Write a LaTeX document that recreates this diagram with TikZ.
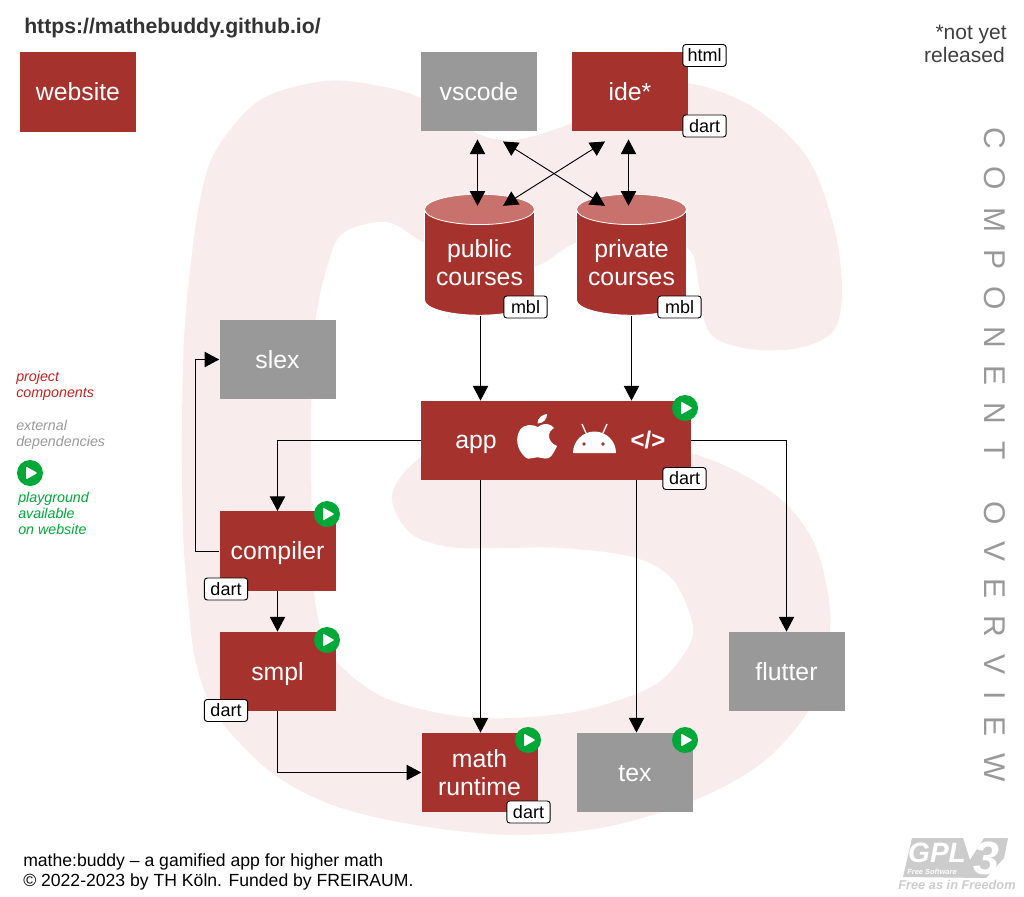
\documentclass[tikz,border=0pt]{standalone}
\usepackage{fontspec}
\setmainfont{Liberation Sans}
\newfontfamily\spreadfont[LetterSpace=57]{Liberation Sans}
\usetikzlibrary{arrows.meta,shapes.geometric}
\definecolor{boxred}{HTML}{A6322E}
\definecolor{cylred}{HTML}{C9716D}
\definecolor{boxgray}{HTML}{999999}
\definecolor{shadepink}{HTML}{F9ECEC}
\definecolor{playgreen}{HTML}{00A838}
\definecolor{legendred}{HTML}{C8201F}
\definecolor{gplgray}{HTML}{CCCCCC}
\begin{document}
\begin{tikzpicture}[x=0.75pt, y=-0.75pt]
        \tikzstyle{redbox}=[rectangle, fill=boxred, text=white, inner sep=0pt, minimum width=87pt, minimum height=59.5pt, align=center, text height=14pt, text depth=1pt, font=\fontsize{18.6}{21}\selectfont]
        \tikzstyle{graybox}=[redbox, fill=boxgray]
        \tikzstyle{courses}=[cylinder, shape border rotate=90, aspect=0.35, draw=white, line width=0.6pt, inner sep=0pt, cylinder uses custom fill, cylinder body fill=boxred, cylinder end fill=cylred, minimum width=82.5pt, minimum height=90.75pt, text=white, align=center, font=\fontsize{18.6}{21}\selectfont]
        \tikzstyle{tag}=[rectangle, rounded corners=2.2pt, draw=black, line width=0.7pt, fill=white, inner sep=0pt, minimum width=32.5pt, minimum height=16.5pt, font=\fontsize{13.5}{14}\selectfont]
        \tikzstyle{play}=[circle, fill=playgreen, inner sep=0pt, minimum size=19.5pt, path picture={\fill[white, rounded corners=0.8pt] ([shift={(-4,-6.5)}]path picture bounding box.center) -- ([shift={(7.5,0)}]path picture bounding box.center) -- ([shift={(-4,6.5)}]path picture bounding box.center) -- cycle;}]
        \tikzstyle{flow}=[draw=black, line width=0.7pt, -{Triangle[length=11pt, width=11.5pt]}]
        \tikzstyle{both}=[flow, {Triangle[length=11pt, width=11.5pt]}-{Triangle[length=11pt, width=11.5pt]}]
        \tikzstyle{legend}=[inner sep=0pt, anchor=west, align=left, font=\fontsize{10.7}{12}\selectfont\itshape]
        \useasboundingbox (0,0) rectangle (1024,896);
        \fill[shadepink] plot[smooth cycle, tension=0.55] coordinates {(325,81) (380,86) (425,100) (474,132) (514,140) (575,122) (630,92) (687,83) (753,107) (807,157) (834,227) (842,290) (834,330) (803,347) (758,350) (718,340) (704,320) (698,280) (688,248) (640,222) (575,243) (534,267) (480,265) (425,243) (387,222) (343,233) (327,267) (316,317) (312,373) (311,450) (312,530) (314,590) (321,630) (338,663) (383,697) (450,715) (512,718) (584,710) (651,687) (682,657) (693,627) (673,580) (633,557) (561,548) (500,548) (450,547) (410,533) (392,495) (421,457) (480,434) (600,428) (691,453) (740,473) (785,503) (816,547) (830,610) (825,663) (807,713) (762,763) (695,800) (606,827) (517,835) (428,827) (338,807) (272,773) (218,717) (196,663) (188,600) (183,530) (182,430) (184,340) (190,270) (200,200) (216,150) (260,100)};

        \node [inner sep=0pt, anchor=west, text=black!80, font=\fontsize{15.9}{18}\selectfont\bfseries] (url) at (24,28.5) {https://mathebuddy.github.io/};
        \node [inner sep=0pt, align=right, anchor=east, text=black!75, font=\fontsize{15.75}{17.25}\selectfont] (released) at (1007,43.5) {*not yet\\released\kern1.5pt};
        \node [inner sep=0pt, rotate=-90, text=boxgray, font=\fontsize{22.5}{24}\spreadfont] (title) at (994.5,455) {COMPONENT\hspace{12pt} OVERVIEW};
        \node [inner sep=0pt, anchor=west, align=left, font=\fontsize{13.2}{15}\selectfont] (credits) at (23,872) {mathe:buddy -- a gamified app for higher math\\\textcopyright{} 2022-2023 by TH Köln. Funded by FREIRAUM.};

        \node [legend, text=legendred] (legendred) at (16,386) {project\\components};
        \node [legend, text=boxgray] (legendgray) at (16,435) {external\\dependencies};
        \node [legend, text=playgreen] (legendgreen) at (18,513) {playground\\available\\on website};
        \node [play] (legendplay) at (30,473) {};

        \node [redbox] (website) at (78,92) {website};
        \node [graybox] (vscode) at (479,91.5) {vscode};
        \node [redbox] (ide) at (630,91.5) {ide*};
        \node [courses] (public) at (479.5,262.5) {public\\courses};
        \node [courses] (private) at (631.5,262.5) {private\\courses};
        \node [graybox] (slex) at (277.5,359.5) {slex};
        \node [redbox, minimum width=202.5pt] (app) at (556,440.5) {};
        \node [inner sep=0pt, text=white, font=\fontsize{18.6}{21}\selectfont] (applabel) at (476,444) {app};
        \node [inner sep=0pt, text=white, font=\fontsize{18}{21}\selectfont\bfseries] (web) at (648,440) {</>};
        \node [redbox] (compiler) at (277.5,551) {compiler};
        \node [redbox] (smpl) at (277.5,671.5) {smpl};
        \node [redbox, text height=, text depth=] (math) at (479.5,772.5) {math\\runtime};
        \node [graybox] (tex) at (635,772.5) {tex};
        \node [graybox] (flutter) at (786.5,671.5) {flutter};

        \fill[white] (538,427) .. controls (532,424) and (524,424) .. (520,430) .. controls (515,438) and (517,448) .. (523,455) .. controls (527,460) and (530,459) .. (533,458) .. controls (536,457) and (539,457) .. (542,458) .. controls (546,459) and (549,459) .. (552,455) .. controls (554,452) and (556,449) .. (557,446) .. controls (552,444) and (549,440) .. (549,436) .. controls (549,432) and (551,430) .. (554,428) .. controls (551,424) and (545,423) .. (541,425) -- cycle;
        \fill[white] (537.5,423.5) .. controls (537.5,418) and (542,414.5) .. (547,414) .. controls (547.5,419) and (543,423.5) .. (537.5,423.5) -- cycle;

        \fill[white] (573,453) arc[start angle=180, end angle=360, x radius=21.5, y radius=21.5] -- cycle;
        \draw[white, line width=1pt] (582,424) -- (586,433) (607,424) -- (603,433);
        \fill[boxred] (584,444) circle[radius=1.8] (603,444) circle[radius=1.8];

        \draw[both] ([shift={(-1.5,8)}]vscode.south) -- ([shift={(-2,12)}]public.north);
        \draw[both] ([shift={(-1.5,8)}]ide.south) -- ([shift={(-3,12)}]private.north);
        \draw[both] ([shift={(24,10)}]vscode.south) -- ([shift={(-26.5,12)}]private.north);
        \draw[both] ([shift={(-25,10)}]ide.south) -- ([shift={(23.5,12)}]public.north);
        \draw[flow] ([xshift=0.75pt]public.south) -- ([xshift=0.75pt]public.south |- app.north);
        \draw[flow] (private.south) -- (private.south |- app.north);
        \draw[flow] (app.west) -| (compiler.north);
        \draw[flow] (compiler.west) -- ++(-24,0) |- (slex.west);
        \draw[flow] (compiler.south) -- (smpl.north);
        \draw[flow] (smpl.south) |- (math.west);
        \draw[flow] ([xshift=0.75pt]math.north |- app.south) -- ([xshift=0.75pt]math.north);
        \draw[flow] ([xshift=1.1pt]tex.north |- app.south) -- ([xshift=1.1pt]tex.north);
        \draw[flow] (app.east) -| (flutter.north);

        \node [tag] (idehtml) at (704.5,55.5) {html};
        \node [tag] (idedart) at (704.5,126) {dart};
        \node [tag] (publicmbl) at (525.5,307) {mbl};
        \node [tag] (privatembl) at (679.5,307) {mbl};
        \node [tag] (appdart) at (684.5,478.5) {dart};
        \node [tag] (compilerdart) at (226,589) {dart};
        \node [tag] (smpldart) at (226,710.5) {dart};
        \node [tag] (mathdart) at (528.5,812) {dart};

        \node [play] (appplay) at (685,408) {};
        \node [play] (compilerplay) at (327,514) {};
        \node [play] (smplplay) at (327,640) {};
        \node [play] (mathplay) at (528,740) {};
        \node [play] (texplay) at (685,740) {};

        \fill[gplgray] (912,838) -- (963,838) -- (970,860) -- (984,838) -- (1008,838) -- (1004,858) -- (986,878) -- (903,877) -- cycle;
        \node [inner sep=0pt, text=white, font=\fontsize{21}{22}\selectfont\bfseries\itshape] (gplname) at (937,853) {GPL};
        \node [inner sep=0pt, text=white, font=\fontsize{5.6}{7}\selectfont\bfseries\itshape] (gplsoft) at (932,872) {Free Software};
        \node [inner sep=0pt, text=white, font=\fontsize{35}{36}\selectfont\bfseries\itshape] (gplthree) at (986,858) {3};
        \node [inner sep=0pt, text=gplgray, font=\fontsize{9.6}{10}\selectfont\bfseries\itshape] (gplfree) at (957,885) {Free as in Freedom};
    \end{tikzpicture}
\end{document}
